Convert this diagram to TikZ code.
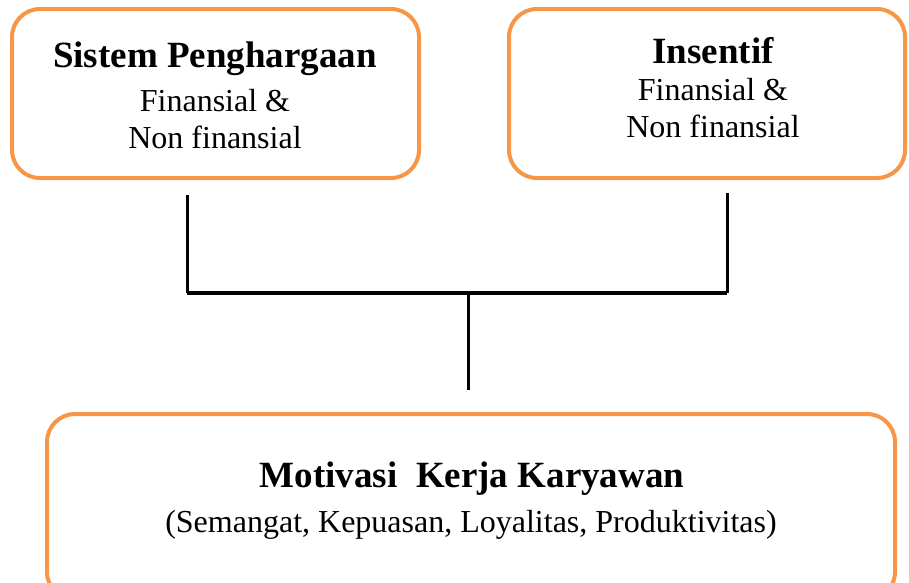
\documentclass[tikz,border=0pt]{standalone}
\usepackage{fontspec}
\setmainfont{Liberation Serif}
\definecolor{boxorange}{HTML}{F79646}
\begin{document}
\begin{tikzpicture}[x=1pt,y=-1pt,
  box/.style={draw=boxorange, line width=4pt, rounded corners=28pt, inner sep=0pt},
  conn/.style={draw=black, line width=3pt, line join=miter},
  bar/.style={draw=black, line width=4pt},
  boldtxt/.style={font=\fontsize{37}{40}\selectfont\bfseries, anchor=base, inner sep=0pt},
  regtxt/.style={font=\fontsize{32}{36}\selectfont, anchor=base, inner sep=0pt}]
\useasboundingbox (0,0) rectangle (909,582);
\clip (0,0) rectangle (909,582);
% boxes
\node[box, minimum width=407pt, minimum height=169pt] (b1) at (215.5,93.5) {};
\node[box, minimum width=396pt, minimum height=169pt] (b2) at (707,93.5) {};
\node[box, minimum width=848pt, minimum height=186pt] (b3) at (471,507) {};
% texts
\node[boldtxt] (t1) at (215,67) {Sistem Penghargaan};
\node[regtxt] (t1a) at (215,111) {Finansial \&};
\node[regtxt] (t1b) at (215,148) {Non finansial};
\node[boldtxt] (t2) at (713,63) {Insentif};
\node[regtxt] (t2a) at (713,100) {Finansial \&};
\node[regtxt] (t2b) at (713,137) {Non finansial};
\node[boldtxt] (t3) at (472,487) {Motivasi\ \ Kerja Karyawan};
\node[regtxt] (t3a) at (471,532) {(Semangat, Kepuasan, Loyalitas, Produktivitas)};
% connectors
\coordinate (ltop) at (187,195);
\coordinate (lbot) at (187,293);
\coordinate (rtop) at (727,193);
\coordinate (rbot) at (727,293);
\coordinate (cjoin) at (468,293);
\coordinate (cbot) at (468,390);
\draw[conn] (ltop) -- (lbot);
\draw[conn] (rtop) -- (rbot);
\draw[bar] (lbot) -- (rbot);
\draw[conn] (cjoin) -- (cbot);
\end{tikzpicture}
\end{document}
